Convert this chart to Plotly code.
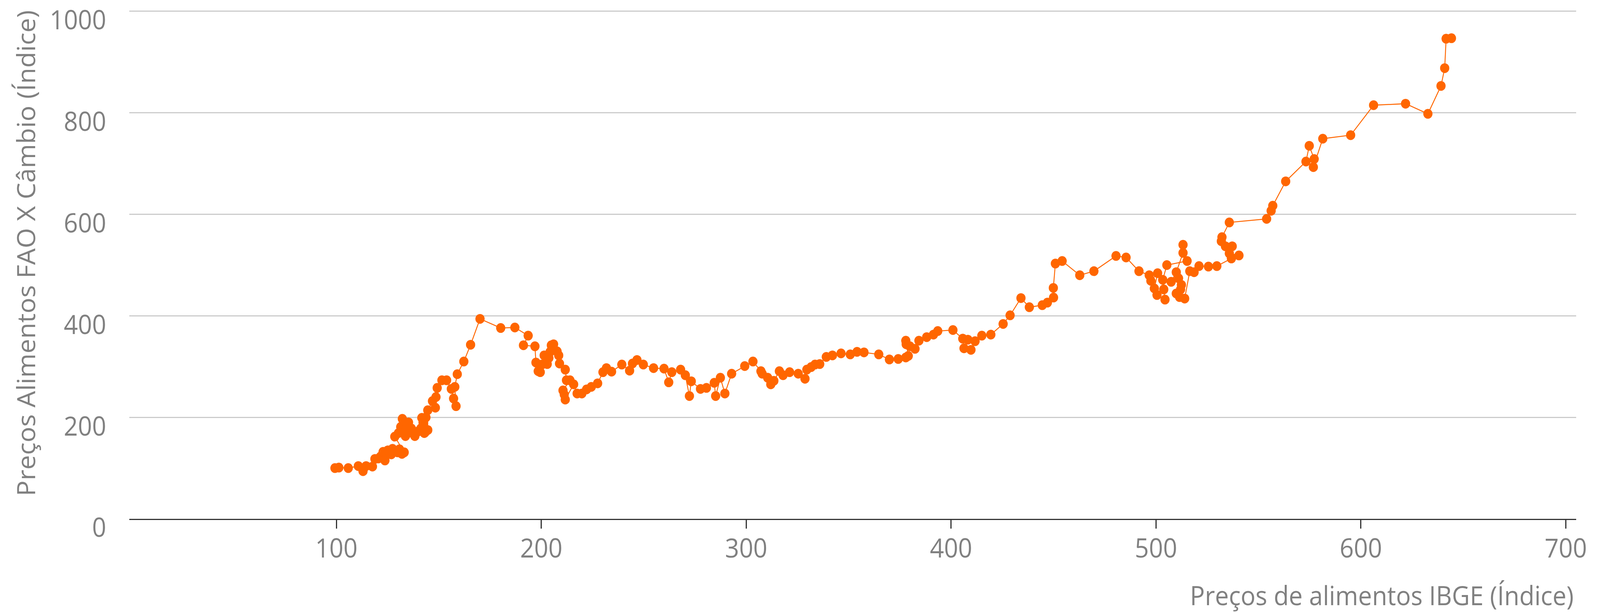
import plotly.graph_objects as go

# Data (path order)
ibge = [
    99.3, 101.2, 105.8, 110.7, 113.0, 114.5, 117.6, 118.8, 120.5, 121.6, 123.7, 122.8,
    124.3, 125.1, 126.8, 127.4, 128.3, 129.9, 130.8, 132.0, 133.1,
    128.5, 130.3, 131.4, 132.2, 133.7, 133.1, 134.3, 135.2, 135.4, 136.6, 138.3, 139.8,
    141.2, 142.9, 143.2, 141.7, 142.3, 143.7, 144.6, 144.6, 146.9, 148.3, 148.6, 149.2,
    151.5, 153.8, 156.1, 157.2, 158.4, 157.8, 159.0, 162.2, 165.5, 170.1,
    180.2, 187.1, 193.6, 191.3, 196.9, 197.4, 198.5, 199.5, 200.3, 201.4, 202.9, 203.7,
    204.3, 204.9, 206.0, 207.7, 208.5, 208.9, 211.7, 212.3, 214.0, 210.6, 211.2, 211.7,
    215.8, 217.5, 219.8, 222.1, 224.4, 227.5, 230.1, 231.8, 234.3, 239.3, 243.1, 244.5,
    246.7, 249.8, 254.8, 259.9, 262.2, 263.7, 268.0, 270.3, 272.3, 273.2, 277.7, 280.6,
    284.4, 285.1, 287.4, 289.6, 292.9, 299.3, 303.3, 307.2, 307.8, 310.5, 312.0, 313.5,
    316.2, 318.0, 321.2, 325.4, 328.7, 329.6, 331.7, 333.6, 335.9, 339.1, 342.1, 346.3,
    350.8, 354.1, 357.5, 364.7, 369.9, 374.2, 377.9, 379.1, 377.9, 378.1, 379.9, 382.4,
    384.3, 388.1, 391.4, 393.5, 400.9, 405.7, 408.2, 406.3, 409.7, 411.7, 415.0, 419.4,
    425.4, 428.8, 434.1, 438.2, 444.5, 447.0, 450.0, 449.9, 450.9, 454.2, 462.8, 469.7,
    480.5, 485.4, 491.7, 496.7, 497.5, 500.8, 499.2, 500.5, 504.4, 503.8, 503.3, 505.3,
    515.2, 513.2, 513.2, 509.9, 507.4, 511.0, 512.4, 512.0, 509.9, 511.5, 514.0, 516.5,
    518.6, 521.0, 525.6, 529.7, 536.8, 540.5, 535.8, 537.2, 533.9, 531.9, 532.2, 535.8,
    554.0, 556.2, 557.0, 563.3, 573.2, 574.8, 577.2, 576.8, 581.4, 595.0, 606.2, 621.8,
    632.7, 639.1, 640.9, 641.6, 644.2,
]
fao_cambio = [
    100, 101, 100, 104, 94, 104, 103, 118, 119, 123, 115, 132,
    130, 135, 127, 138, 135, 131, 137, 128, 131,
    162, 169, 181, 197, 163, 170, 180, 190, 170, 178, 163, 172,
    178, 169, 170, 199, 190, 200, 175, 214, 232, 219, 240, 258,
    273, 273, 256, 237, 222, 260, 285, 310, 343, 394,
    376, 377, 361, 342, 340, 308, 291, 289, 304, 322, 305, 317,
    329, 342, 344, 330, 322, 306, 294, 273, 273, 253, 245, 235,
    265, 247, 247, 255, 260, 267, 289, 297, 290, 304, 292, 306,
    313, 304, 297, 296, 269, 289, 294, 283, 242, 271, 256, 258,
    268, 242, 278, 247, 286, 301, 310, 291, 286, 278, 265, 272,
    291, 283, 289, 286, 276, 294, 299, 304, 305, 319, 322, 326,
    324, 329, 328, 324, 314, 315, 318, 321, 351, 344, 340, 335,
    351, 358, 363, 370, 372, 355, 353, 336, 333, 350, 361, 363,
    384, 401, 435, 417, 421, 426, 436, 455, 503, 508, 480, 488,
    518, 515, 488, 480, 469, 484, 454, 441, 432, 452, 471, 500,
    508, 540, 524, 486, 467, 474, 461, 452, 444, 437, 434, 488,
    486, 498, 497, 498, 513, 519, 523, 537, 537, 547, 555, 584,
    591, 607, 617, 665, 704, 735, 709, 693, 749, 756, 815, 818,
    798, 853, 888, 946, 947,
]

x_ticks = [100, 200, 300, 400, 500, 600, 700]
y_ticks = [0, 200, 400, 600, 800, 1000]

x_title = "Preços de alimentos IBGE (Índice)"
y_title = "Preços Alimentos FAO X Câmbio (Índice)"

ORANGE = "#FF6600"
GREY = "#808080"
FONT = "Open Sans"
FS = 67
W, H = 4339, 1569

fig = go.Figure()
fig.add_trace(go.Scatter(
    x=ibge, y=fao_cambio, mode="lines+markers",
    line=dict(color=ORANGE, width=2.5),
    marker=dict(color=ORANGE, size=25, line=dict(width=0)),
    showlegend=False,
))

fig.update_layout(
    width=W, height=H,
    margin=dict(l=351, r=65, t=27, b=241),
    paper_bgcolor="white", plot_bgcolor="white",
    font=dict(family=FONT, size=FS, color=GREY),
    xaxis=dict(
        range=[-1, 705], tickvals=x_ticks, ticktext=[str(v) for v in x_ticks],
        showgrid=False, zeroline=False, automargin=False,
        showline=True, linecolor="#333333", linewidth=2.5,
        ticks="outside", ticklen=22, tickwidth=2.5, tickcolor="#333333",
        ticklabelstandoff=-6,
        tickfont=dict(family=FONT, size=FS, color=GREY),
    ),
    yaxis=dict(
        range=[0, 1001.5], tickvals=y_ticks, ticktext=[str(v) for v in y_ticks],
        showgrid=True, gridcolor="#cccccc", gridwidth=3,
        zeroline=False, showline=False, ticks="", automargin=False,
        ticklabeloverflow="allow",
        ticklabelstandoff=62,
        ticklabelshift=23,
        tickfont=dict(family=FONT, size=FS, color=GREY),
    ),
    annotations=[
        dict(text=y_title, xref="paper", yref="paper", x=0, y=1,
             xanchor="center", yanchor="top", xshift=-282, yshift=3,
             textangle=-90, showarrow=False,
             font=dict(family=FONT, size=FS, color=GREY)),
        dict(text=x_title, xref="paper", yref="paper", x=1, y=0,
             xanchor="right", yanchor="middle", xshift=-4, yshift=-195,
             showarrow=False,
             font=dict(family=FONT, size=FS, color=GREY)),
    ],
)

# Fit the fixed-size figure into whatever viewport the browser gives
post = """
(function(){
  document.documentElement.style.margin='0';
  document.documentElement.style.overflow='hidden';
  document.body.style.margin='0';
  document.body.style.overflow='hidden';
  var gd = document.getElementById('{plot_id}');
  var box = gd.parentElement;
  var sx = window.innerWidth / %d, sy = window.innerHeight / %d;
  box.style.transformOrigin = '0 0';
  box.style.transform = 'scale(' + sx + ',' + sy + ')';
})();
""" % (W, H)

fig.write_html("out.html", post_script=post, config={"displayModeBar": False})
